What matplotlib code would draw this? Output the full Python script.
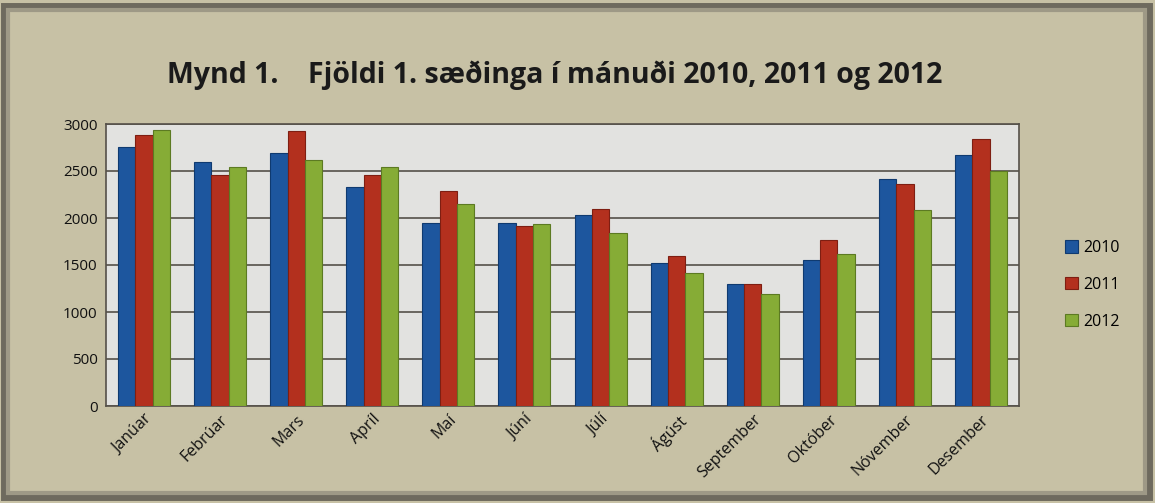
import matplotlib
matplotlib.use("Agg")
import matplotlib.pyplot as plt
import numpy as np
from matplotlib.patches import Rectangle

months = ["Janúar", "Febrúar", "Mars", "Apríl", "Maí", "Júní", "Júlí",
          "Ágúst", "September", "Október", "Nóvember", "Desember"]
v2010 = [2752, 2599, 2688, 2327, 1944, 1950, 2035, 1521, 1301, 1556, 2412, 2667]
v2011 = [2880, 2457, 2926, 2454, 2287, 1915, 2096, 1596, 1301, 1763, 2362, 2837]
v2012 = [2936, 2546, 2617, 2543, 2149, 1936, 1837, 1412, 1191, 1614, 2085, 2497]
series_names = ["2010", "2011", "2012"]
yticks = [0, 500, 1000, 1500, 2000, 2500, 3000]

plt.rcParams['font.family'] = ['Open Sans', 'DejaVu Sans']

W, H = 1155, 503
fig = plt.figure(figsize=(W / 100, H / 100), dpi=100)
bg = "#C7C1A5"
fig.patch.set_facecolor(bg)

# outer frame
fig.patches.append(Rectangle((4 / W, 6 / H), 1 - 10 / W, 1 - 12 / H, transform=fig.transFigure,
                             fill=False, edgecolor="#6E6A5E", linewidth=5, zorder=0))
fig.patches.append(Rectangle((8 / W, 10 / H), 1 - 18 / W, 1 - 20 / H, transform=fig.transFigure,
                             fill=False, edgecolor="#9E9986", linewidth=3, zorder=0))

left, right = 106 / W, 1019 / W
bottom, top = 1 - 406 / H, 1 - 124 / H
ax = fig.add_axes([left, bottom, right - left, top - bottom])
ax.set_facecolor("#E2E2E0")

x = np.arange(len(months))
bw = 0.228
colors = ["#1D569E", "#B3301E", "#86AC36"]
edge = ["#0F3A70", "#7E1E12", "#5C7A22"]
for i, (vals, c, ec, name) in enumerate(zip([v2010, v2011, v2012], colors, edge, series_names)):
    ax.bar(x + (i - 1) * bw, vals, width=bw, color=c, edgecolor=ec, linewidth=0.8,
           label=name, zorder=3)

ax.set_ylim(0, 3000)
ax.set_xlim(-0.5, len(months) - 0.5)
ax.set_yticks(yticks)
ax.set_yticklabels([str(t) for t in yticks], fontsize=11)
ax.yaxis.grid(True, color="#555049", linewidth=1.2, zorder=1)
ax.set_axisbelow(True)
ax.set_xticks(x)
ax.set_xticklabels(months, rotation=45, ha="right", rotation_mode="anchor", fontsize=11.5)
ax.tick_params(axis="both", length=0, pad=6, colors="#111111")
ax.tick_params(axis="x", pad=4)
for s in ax.spines.values():
    s.set_color("#555049")
    s.set_linewidth(1.2)

fig.text(555 / W, 1 - 75 / H, "Mynd 1.    Fjöldi 1. sæðinga í mánuði 2010, 2011 og 2012",
         ha="center", va="center", fontsize=20.5, fontweight="bold", color="#1A1A1A")

leg = ax.legend(loc="center left", bbox_to_anchor=(1.035, 0.43), frameon=False,
                fontsize=11.5, handlelength=0.8, handleheight=0.8, labelspacing=1.3,
                handletextpad=0.3)

fig.savefig("out.png", dpi=100, facecolor=bg)
